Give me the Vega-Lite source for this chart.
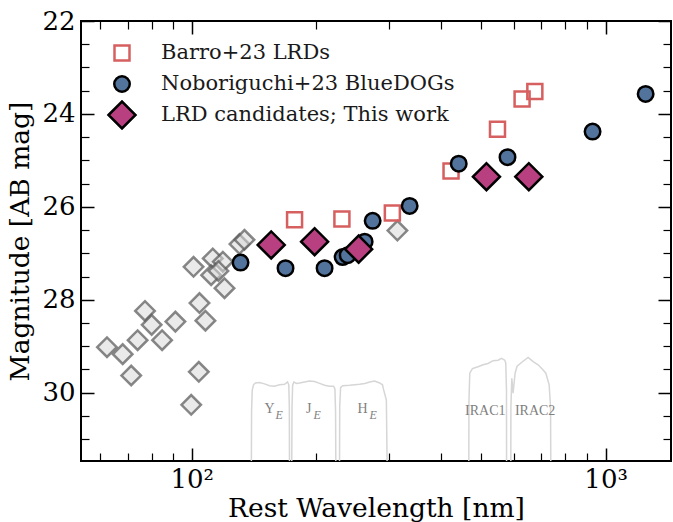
{
  "$schema": "https://vega.github.io/schema/vega-lite/v6.json",
  "width": 590,
  "height": 440,
  "autosize": {"type": "none"},
  "padding": {"left": 81, "top": 21, "right": 2, "bottom": 61},
  "background": "white",
  "config": {
    "view": {"stroke": "black", "strokeWidth": 2},
    "font": "DejaVu Serif",
    "axis": {
      "grid": false,
      "domain": false,
      "tickColor": "black",
      "labelColor": "black",
      "labelFont": "DejaVu Serif",
      "labelFontSize": 26,
      "titleFont": "DejaVu Serif",
      "titleFontSize": 26.5,
      "titleFontWeight": "normal",
      "titleColor": "black"
    }
  },
  "datasets": {
    "filters": [
      {"filter": "Y", "i": 0, "lam": 139.3, "mag": 31.8},
      {"filter": "Y", "i": 1, "lam": 139.5, "mag": 30.4},
      {"filter": "Y", "i": 2, "lam": 140.0, "mag": 29.95},
      {"filter": "Y", "i": 3, "lam": 141.0, "mag": 29.83},
      {"filter": "Y", "i": 4, "lam": 142.5, "mag": 29.79},
      {"filter": "Y", "i": 5, "lam": 145.8, "mag": 29.78},
      {"filter": "Y", "i": 6, "lam": 149.9, "mag": 29.81},
      {"filter": "Y", "i": 7, "lam": 154.2, "mag": 29.85},
      {"filter": "Y", "i": 8, "lam": 158.5, "mag": 29.86},
      {"filter": "Y", "i": 9, "lam": 163.0, "mag": 29.83},
      {"filter": "Y", "i": 10, "lam": 167.6, "mag": 29.82},
      {"filter": "Y", "i": 11, "lam": 170.4, "mag": 29.77},
      {"filter": "Y", "i": 12, "lam": 171.6, "mag": 29.83},
      {"filter": "Y", "i": 13, "lam": 172.1, "mag": 30.3},
      {"filter": "Y", "i": 14, "lam": 172.3, "mag": 31.8},
      {"filter": "J", "i": 0, "lam": 174.4, "mag": 31.8},
      {"filter": "J", "i": 1, "lam": 174.7, "mag": 30.3},
      {"filter": "J", "i": 2, "lam": 175.3, "mag": 29.84},
      {"filter": "J", "i": 3, "lam": 176.5, "mag": 29.77},
      {"filter": "J", "i": 4, "lam": 179.2, "mag": 29.8},
      {"filter": "J", "i": 5, "lam": 182.2, "mag": 29.79},
      {"filter": "J", "i": 6, "lam": 187.3, "mag": 29.77},
      {"filter": "J", "i": 7, "lam": 192.6, "mag": 29.75},
      {"filter": "J", "i": 8, "lam": 198.1, "mag": 29.76},
      {"filter": "J", "i": 9, "lam": 203.7, "mag": 29.8},
      {"filter": "J", "i": 10, "lam": 209.4, "mag": 29.84},
      {"filter": "J", "i": 11, "lam": 215.3, "mag": 29.86},
      {"filter": "J", "i": 12, "lam": 220.2, "mag": 29.86},
      {"filter": "J", "i": 13, "lam": 221.8, "mag": 29.92},
      {"filter": "J", "i": 14, "lam": 222.6, "mag": 30.4},
      {"filter": "J", "i": 15, "lam": 223.0, "mag": 31.8},
      {"filter": "H", "i": 0, "lam": 227.5, "mag": 31.8},
      {"filter": "H", "i": 1, "lam": 227.8, "mag": 30.3},
      {"filter": "H", "i": 2, "lam": 228.9, "mag": 29.89},
      {"filter": "H", "i": 3, "lam": 231.5, "mag": 29.85},
      {"filter": "H", "i": 4, "lam": 240.7, "mag": 29.84},
      {"filter": "H", "i": 5, "lam": 254.5, "mag": 29.82},
      {"filter": "H", "i": 6, "lam": 262.0, "mag": 29.8},
      {"filter": "H", "i": 7, "lam": 269.1, "mag": 29.77},
      {"filter": "H", "i": 8, "lam": 276.7, "mag": 29.75},
      {"filter": "H", "i": 9, "lam": 284.4, "mag": 29.79},
      {"filter": "H", "i": 10, "lam": 289.0, "mag": 29.83},
      {"filter": "H", "i": 11, "lam": 290.9, "mag": 29.94},
      {"filter": "H", "i": 12, "lam": 295.3, "mag": 30.16},
      {"filter": "H", "i": 13, "lam": 296.8, "mag": 31.8},
      {"filter": "IRAC1", "i": 0, "lam": 467.1, "mag": 31.8},
      {"filter": "IRAC1", "i": 1, "lam": 467.5, "mag": 30.2},
      {"filter": "IRAC1", "i": 2, "lam": 469.7, "mag": 29.58},
      {"filter": "IRAC1", "i": 3, "lam": 476.8, "mag": 29.48},
      {"filter": "IRAC1", "i": 4, "lam": 491.8, "mag": 29.44},
      {"filter": "IRAC1", "i": 5, "lam": 505.7, "mag": 29.4},
      {"filter": "IRAC1", "i": 6, "lam": 520.0, "mag": 29.37},
      {"filter": "IRAC1", "i": 7, "lam": 534.7, "mag": 29.31},
      {"filter": "IRAC1", "i": 8, "lam": 549.8, "mag": 29.3},
      {"filter": "IRAC1", "i": 9, "lam": 560.3, "mag": 29.26},
      {"filter": "IRAC1", "i": 10, "lam": 570.6, "mag": 29.3},
      {"filter": "IRAC1", "i": 11, "lam": 573.8, "mag": 29.36},
      {"filter": "IRAC1", "i": 12, "lam": 576.1, "mag": 29.94},
      {"filter": "IRAC1", "i": 13, "lam": 576.5, "mag": 31.8},
      {"filter": "IRAC2", "i": 0, "lam": 590.1, "mag": 31.8},
      {"filter": "IRAC2", "i": 1, "lam": 590.5, "mag": 30.3},
      {"filter": "IRAC2", "i": 2, "lam": 593.4, "mag": 29.69},
      {"filter": "IRAC2", "i": 3, "lam": 597.7, "mag": 30.01},
      {"filter": "IRAC2", "i": 4, "lam": 604.4, "mag": 29.58},
      {"filter": "IRAC2", "i": 5, "lam": 611.2, "mag": 29.43},
      {"filter": "IRAC2", "i": 6, "lam": 626.3, "mag": 29.35},
      {"filter": "IRAC2", "i": 7, "lam": 649.8, "mag": 29.24},
      {"filter": "IRAC2", "i": 8, "lam": 668.2, "mag": 29.33},
      {"filter": "IRAC2", "i": 9, "lam": 687.0, "mag": 29.4},
      {"filter": "IRAC2", "i": 10, "lam": 706.5, "mag": 29.51},
      {"filter": "IRAC2", "i": 11, "lam": 717.2, "mag": 29.58},
      {"filter": "IRAC2", "i": 12, "lam": 730.5, "mag": 29.83},
      {"filter": "IRAC2", "i": 13, "lam": 736.2, "mag": 30.3},
      {"filter": "IRAC2", "i": 14, "lam": 737.4, "mag": 31.8}
    ],
    "gray": [
      {"lam": 62.4, "mag": 29.02},
      {"lam": 68.1, "mag": 29.17},
      {"lam": 71.4, "mag": 29.63},
      {"lam": 74.0, "mag": 28.87},
      {"lam": 77.1, "mag": 28.24},
      {"lam": 80.0, "mag": 28.54},
      {"lam": 84.8, "mag": 28.87},
      {"lam": 91.3, "mag": 28.47},
      {"lam": 101.0, "mag": 27.29},
      {"lam": 104.4, "mag": 28.07},
      {"lam": 107.9, "mag": 28.45},
      {"lam": 104.0, "mag": 29.55},
      {"lam": 99.7, "mag": 30.26},
      {"lam": 112.4, "mag": 27.11},
      {"lam": 111.4, "mag": 27.47},
      {"lam": 118.9, "mag": 27.18},
      {"lam": 116.0, "mag": 27.38},
      {"lam": 120.0, "mag": 27.75},
      {"lam": 130.4, "mag": 26.8},
      {"lam": 134.1, "mag": 26.71},
      {"lam": 314.0, "mag": 26.51}
    ],
    "points": [
      {"series": "Barro+23 LRDs", "lam": 177.2, "mag": 26.28},
      {"series": "Barro+23 LRDs", "lam": 230.6, "mag": 26.26},
      {"series": "Barro+23 LRDs", "lam": 305.3, "mag": 26.13},
      {"series": "Barro+23 LRDs", "lam": 423.2, "mag": 25.23},
      {"series": "Barro+23 LRDs", "lam": 548.0, "mag": 24.33},
      {"series": "Barro+23 LRDs", "lam": 628.4, "mag": 23.68},
      {"series": "Barro+23 LRDs", "lam": 674.6, "mag": 23.52},
      {"series": "Noboriguchi+23 BlueDOGs", "lam": 131.2, "mag": 27.2},
      {"series": "Noboriguchi+23 BlueDOGs", "lam": 168.5, "mag": 27.32},
      {"series": "Noboriguchi+23 BlueDOGs", "lam": 209.4, "mag": 27.32},
      {"series": "Noboriguchi+23 BlueDOGs", "lam": 231.5, "mag": 27.08},
      {"series": "Noboriguchi+23 BlueDOGs", "lam": 238.1, "mag": 27.04},
      {"series": "Noboriguchi+23 BlueDOGs", "lam": 261.7, "mag": 26.75},
      {"series": "Noboriguchi+23 BlueDOGs", "lam": 273.6, "mag": 26.3},
      {"series": "Noboriguchi+23 BlueDOGs", "lam": 336.2, "mag": 25.98},
      {"series": "Noboriguchi+23 BlueDOGs", "lam": 441.7, "mag": 25.07},
      {"series": "Noboriguchi+23 BlueDOGs", "lam": 579.4, "mag": 24.93},
      {"series": "Noboriguchi+23 BlueDOGs", "lam": 930.1, "mag": 24.38},
      {"series": "Noboriguchi+23 BlueDOGs", "lam": 1249.6, "mag": 23.57},
      {"series": "LRD candidates; This work", "lam": 155.6, "mag": 26.82},
      {"series": "LRD candidates; This work", "lam": 198.1, "mag": 26.75},
      {"series": "LRD candidates; This work", "lam": 253.1, "mag": 26.91},
      {"series": "LRD candidates; This work", "lam": 515.4, "mag": 25.35},
      {"series": "LRD candidates; This work", "lam": 652.4, "mag": 25.35}
    ],
    "flabels": [
      {"t": "Y", "lam": 154.2, "mag": 30.35},
      {"t": "J", "lam": 191.6, "mag": 30.35},
      {"t": "H", "lam": 258.8, "mag": 30.35},
      {"t": "IRAC1", "lam": 512.0, "mag": 30.39},
      {"t": "IRAC2", "lam": 675.6, "mag": 30.39}
    ],
    "subs": [
      {"t": "E", "lam": 162.7, "mag": 30.47},
      {"t": "E", "lam": 200.9, "mag": 30.47},
      {"t": "E", "lam": 274.4, "mag": 30.47}
    ]
  },
  "layer": [
    {
      "data": {"name": "filters"},
      "mark": {"type": "line", "stroke": "#d6d6d6", "strokeWidth": 1.5, "clip": true},
      "encoding": {
        "x": {
          "field": "lam", "type": "quantitative",
          "scale": {"type": "log", "domain": [54, 1439], "nice": false},
          "axis": {"orient": "bottom", "values": [100, 1000], "labelExpr": "datum.value == 100 ? '10²' : '10³'", "ticks": false, "labelPadding": 5.5, "labelFlush": false, "labelOverlap": false, "title": "Rest Wavelength [nm]", "titlePadding": 3}
        },
        "y": {
          "field": "mag", "type": "quantitative",
          "scale": {"domain": [22, 31.47], "reverse": true, "nice": false, "zero": false},
          "axis": {"orient": "left", "values": [22, 24, 26, 28, 30], "ticks": false, "labelPadding": 6, "labelFlush": false, "labelOverlap": false, "title": "Magnitude [AB mag]", "titlePadding": 7}
        },
        "detail": {"field": "filter"},
        "order": {"field": "i", "type": "quantitative"}
      }
    },
    {
      "data": {"name": "gray"},
      "mark": {"type": "point", "shape": "diamond", "size": 380, "filled": true, "fill": "#d9d9d9", "fillOpacity": 0.55, "stroke": "#555555", "strokeOpacity": 0.7, "strokeWidth": 2.5, "strokeJoin": "miter", "opacity": 1},
      "encoding": {
        "x": {"field": "lam", "type": "quantitative", "axis": {"orient": "bottom", "offset": -13, "values": [100, 1000], "labels": false, "tickSize": 13, "tickWidth": 1.5, "title": null}},
        "y": {"field": "mag", "type": "quantitative", "axis": {"orient": "left", "offset": -13, "values": [22, 24, 26, 28, 30], "labels": false, "tickSize": 13, "tickWidth": 1.5, "title": null}}
      }
    },
    {
      "data": {"name": "points"},
      "mark": {"type": "point", "filled": true, "strokeWidth": 2.5, "strokeJoin": "miter", "opacity": 1},
      "encoding": {
        "x": {"field": "lam", "type": "quantitative", "axis": {"orient": "bottom", "offset": -8, "values": [60, 70, 80, 90, 200, 300, 400, 500, 600, 700, 800, 900], "labels": false, "tickSize": 8, "tickWidth": 1.2, "title": null}},
        "y": {"field": "mag", "type": "quantitative", "axis": {"orient": "left", "offset": -8, "values": [22.5, 23, 23.5, 24.5, 25, 25.5, 26.5, 27, 27.5, 28.5, 29, 29.5, 30.5, 31], "labels": false, "tickSize": 8, "tickWidth": 1.2, "title": null}},
        "shape": {
          "field": "series", "type": "nominal",
          "scale": {"domain": ["Barro+23 LRDs", "Noboriguchi+23 BlueDOGs", "LRD candidates; This work"], "range": ["square", "circle", "diamond"]},
          "legend": {"title": null, "orient": "top-left", "offset": 17, "padding": 0, "symbolOffset": 9, "labelOffset": 24, "rowPadding": 1, "clipHeight": 30, "labelFont": "DejaVu Serif", "labelFontSize": 21, "labelColor": "#1a1a1a", "symbolStrokeWidth": 2.5, "labelLimit": 500}
        },
        "fill": {
          "field": "series", "type": "nominal",
          "scale": {"domain": ["Barro+23 LRDs", "Noboriguchi+23 BlueDOGs", "LRD candidates; This work"], "range": ["transparent", "#52749c", "#b94080"]}
        },
        "stroke": {
          "field": "series", "type": "nominal",
          "scale": {"domain": ["Barro+23 LRDs", "Noboriguchi+23 BlueDOGs", "LRD candidates; This work"], "range": ["#d65f5f", "#000000", "#000000"]}
        },
        "size": {
          "field": "series", "type": "nominal",
          "scale": {"type": "ordinal", "domain": ["Barro+23 LRDs", "Noboriguchi+23 BlueDOGs", "LRD candidates; This work"], "range": [225, 240, 729]}
        }
      }
    },
    {
      "data": {"name": "flabels"},
      "mark": {"type": "text", "font": "Liberation Serif", "fontSize": 14, "color": "#7f7f7f", "align": "center", "baseline": "middle"},
      "encoding": {
        "x": {"field": "lam", "type": "quantitative", "axis": {"orient": "top", "offset": -13, "values": [100, 1000], "labels": false, "tickSize": 13, "tickWidth": 1.5, "title": null}},
        "y": {"field": "mag", "type": "quantitative", "axis": {"orient": "right", "offset": -13, "values": [22, 24, 26, 28, 30], "labels": false, "tickSize": 13, "tickWidth": 1.5, "title": null}},
        "text": {"field": "t"}
      }
    },
    {
      "data": {"name": "subs"},
      "mark": {"type": "text", "font": "Liberation Serif", "fontSize": 12, "fontStyle": "italic", "color": "#7f7f7f", "align": "center", "baseline": "middle"},
      "encoding": {
        "x": {"field": "lam", "type": "quantitative", "axis": {"orient": "top", "offset": -8, "values": [60, 70, 80, 90, 200, 300, 400, 500, 600, 700, 800, 900], "labels": false, "tickSize": 8, "tickWidth": 1.2, "title": null}},
        "y": {"field": "mag", "type": "quantitative", "axis": {"orient": "right", "offset": -8, "values": [22.5, 23, 23.5, 24.5, 25, 25.5, 26.5, 27, 27.5, 28.5, 29, 29.5, 30.5, 31], "labels": false, "tickSize": 8, "tickWidth": 1.2, "title": null}},
        "text": {"field": "t"}
      }
    }
  ],
  "resolve": {"axis": {"x": "independent", "y": "independent"}}
}
